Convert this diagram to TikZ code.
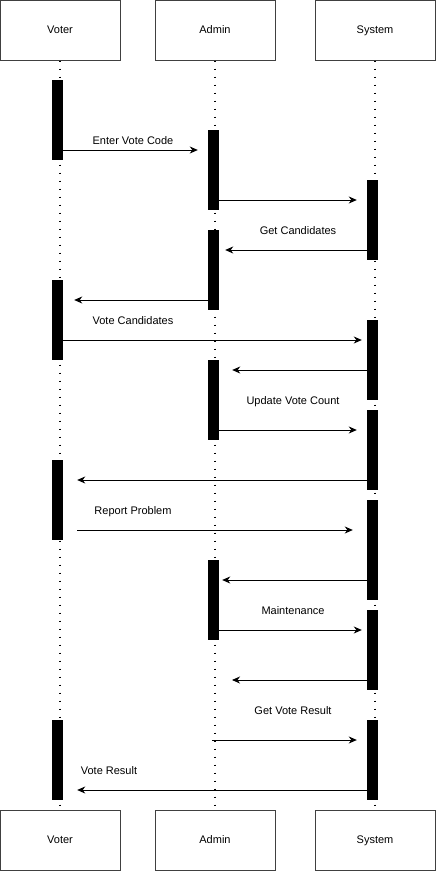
\documentclass[tikz,border=0pt]{standalone}
\usepackage{fontspec}
\setmainfont{Liberation Sans}
\usetikzlibrary{arrows.meta}

\begin{document}
\begin{tikzpicture}[x=1pt, y=-1pt, font=\fontsize{11}{13}\selectfont,
    actor/.style={draw=black!75, line width=1pt, minimum width=120pt, minimum height=60pt, inner sep=0pt, text height=8pt, text depth=2pt},
    bar/.style={fill=black, draw=none, minimum width=11pt, inner sep=0pt},
    lifeline/.style={line width=1.5pt, dash pattern=on 1.5pt off 6.5pt},
    msg/.style={line width=1pt, -{Stealth[length=8pt, width=7pt, inset=2.5pt]}},
    lbl/.style={inner sep=0pt, text height=8pt, text depth=2pt}]
    \useasboundingbox (0,0) rectangle (437,871);
    % actors, top and bottom
    \node[actor] (voter)  at (60,30)  {Voter};
    \node[actor] (admin)  at (215,30) {Admin};
    \node[actor] (system) at (375,30) {System};
    \node[actor] (voterB)  at (60,840)  {Voter};
    \node[actor] (adminB)  at (215,840) {Admin};
    \node[actor] (systemB) at (375,840) {System};
    % lifelines
    \draw[lifeline] (voter.south)  -- (voterB.north);
    \draw[lifeline] (admin.south)  -- (adminB.north);
    \draw[lifeline] (system.south) -- (systemB.north);
    % activation bars
    \node[bar, minimum height=80pt] (v1) at (57.5,120) {};
    \node[bar, minimum height=80pt] (v2) at (57.5,320) {};
    \node[bar, minimum height=80pt] (v3) at (57.5,500) {};
    \node[bar, minimum height=80pt] (v4) at (57.5,760) {};
    \node[bar, minimum height=80pt] (a1) at (213.5,170) {};
    \node[bar, minimum height=80pt] (a2) at (213.5,270) {};
    \node[bar, minimum height=80pt] (a3) at (213.5,400) {};
    \node[bar, minimum height=80pt] (a4) at (213.5,600) {};
    \node[bar, minimum height=80pt] (s1) at (372.5,220) {};
    \node[bar, minimum height=80pt] (s2) at (372.5,360) {};
    \node[bar, minimum height=80pt] (s3) at (372.5,450) {};
    \node[bar, minimum height=100pt] (s4) at (372.5,550) {};
    \node[bar, minimum height=80pt] (s5) at (372.5,650) {};
    \node[bar, minimum height=80pt] (s6) at (372.5,760) {};
    % messages
    \draw[msg, shorten >=10pt] (v1.east |- 0,150) -- (a1.west |- 0,150);
    \draw[msg, shorten >=10pt] (a1.east |- 0,200) -- (s1.west |- 0,200);
    \draw[msg, shorten >=6pt]  (s1.west |- 0,250) -- (a2.east |- 0,250);
    \draw[msg, shorten >=11pt] (a2.west |- 0,300) -- (v2.east |- 0,300);
    \draw[msg, shorten >=5pt]  (v2.east |- 0,340) -- (s2.west |- 0,340);
    \draw[msg, shorten >=13pt] (s2.west |- 0,370) -- (a3.east |- 0,370);
    \draw[msg, shorten >=10pt] (a3.east |- 0,430) -- (s3.west |- 0,430);
    \draw[msg, shorten >=14pt] (s3.west |- 0,480) -- (v3.east |- 0,480);
    \draw[msg, shorten <=14pt, shorten >=14pt] (v3.east |- 0,530) -- (s4.west |- 0,530);
    \draw[msg, shorten >=3pt]  (s4.west |- 0,580) -- (a4.east |- 0,580);
    \draw[msg, shorten >=5pt]  (a4.east |- 0,630) -- (s5.west |- 0,630);
    \draw[msg, shorten >=17pt] (s5.west |- 0,680) -- (admin.south |- 0,680);
    \draw[msg, shorten <=-3pt, shorten >=10pt] (admin.south |- 0,740) -- (s6.west |- 0,740);
    \draw[msg, shorten >=14pt] (s6.west |- 0,790) -- (v4.east |- 0,790);
    % message labels
    \node[lbl] (lCode)   at (133,141.5) {Enter Vote Code};
    \node[lbl] (lCand)   at (298,231.5) {Get Candidates};
    \node[lbl] (lVote)   at (133,321.5) {Vote Candidates};
    \node[lbl] (lCount)  at (293,401.5) {Update Vote Count};
    \node[lbl] (lReport) at (133,511.5) {Report Problem};
    \node[lbl] (lMaint)  at (293,611.5) {Maintenance};
    \node[lbl] (lGet)    at (293,711.5) {Get Vote Result};
    \node[lbl] (lResult) at (109,771.5) {Vote Result};
\end{tikzpicture}
\end{document}
